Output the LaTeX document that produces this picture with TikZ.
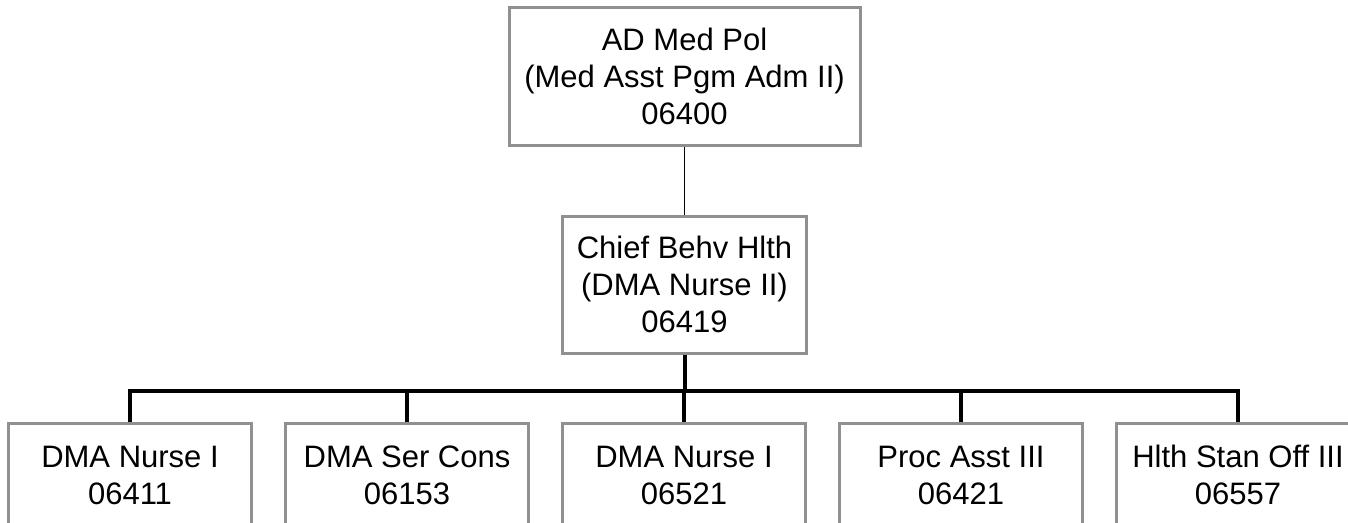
\documentclass[tikz,border=0pt]{standalone}
\usepackage{fontspec}
\setmainfont{Liberation Sans}
\usepackage{tikz}
\usetikzlibrary{positioning}
\definecolor{frame}{HTML}{909090}
\definecolor{ink}{HTML}{000000}
\tikzset{
  post/.style={draw=frame, line width=3pt, fill=white, align=center, inner sep=0pt,
    font=\fontsize{31}{37}\selectfont},
  staff/.style={post, minimum width=243pt, minimum height=104pt},
  link/.style={draw=ink, line width=1.3pt},
  bus/.style={draw=ink, line width=4pt, line join=miter},
}

\begin{document}
\begin{tikzpicture}[x=1pt,y=-1pt]
  \useasboundingbox (0,0) rectangle (1348,522);
  \clip (0,0) rectangle (1348,522);
  \node[post,minimum width=351pt,minimum height=138pt] (admin) at (684.5,76)
    {AD Med Pol\\(Med Asst Pgm Adm II)\\06400};
  \node[post,minimum width=244pt,minimum height=137pt] (chief) at (684.5,284.5)
    {Chief Behv Hlth\\(DMA Nurse II)\\06419};
  \foreach \i/\txt in {1/{DMA Nurse I\\06411},2/{DMA Ser Cons\\06153},
                       3/{DMA Nurse I\\06521},4/{Proc Asst III\\06421},
                       5/{Hlth Stan Off III\\06557}}
    \node[staff] (staff\i) at ({130+277*(\i-1)},475) {\txt};
  \draw[link] (admin.south) -- (chief.north);
  \draw[bus] (chief.south) -- ++(0,36) coordinate (hub);
  \draw[bus] (staff1.north) |- (hub -| staff5.north) -- (staff5.north); % outer drops
  \foreach \i in {2,3,4}
    \draw[bus] (hub -| staff\i.north) -- (staff\i.north);
\end{tikzpicture}
\end{document}
